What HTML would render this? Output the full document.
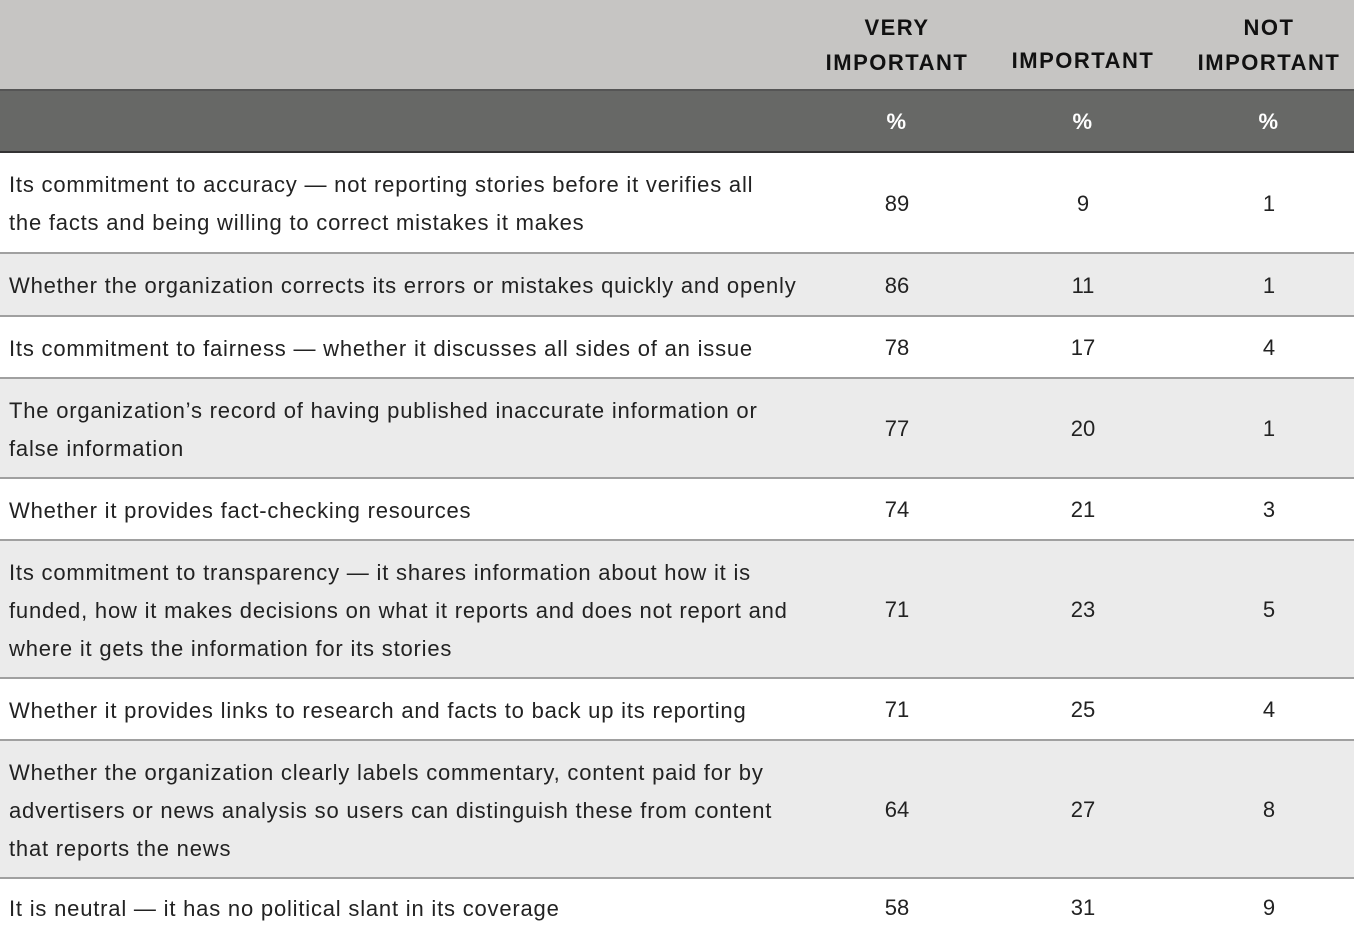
<!DOCTYPE html>
<html><head><meta charset="utf-8"><style>
body{margin:0;width:1354px;height:935px;overflow:hidden;background:#fff;font-family:"Liberation Sans",sans-serif;color:#222}
.r{position:absolute;left:0;width:1354px;box-sizing:border-box;border-bottom:2px solid #a0a0a0}
.t{position:absolute;left:9px;width:830px;top:3px;bottom:0;display:flex;align-items:center;font-size:22px;line-height:38px;letter-spacing:0.8px;white-space:nowrap}
.n{position:absolute;width:120px;top:2px;bottom:0;display:flex;align-items:center;justify-content:center;font-size:22px}
.c1{left:837px}.c2{left:1023px}.c3{left:1209px}
.h{font-weight:bold;font-size:22px;line-height:35px;text-align:center;color:#111;letter-spacing:1.5px;top:0}
</style></head><body>
<div class="r" style="top:0;height:91px;background:#c6c5c3;border-bottom:2px solid #555">
<div class="n c1 h" style="width:180px;left:807px">VERY<br>IMPORTANT</div>
<div class="n c2 h" style="width:180px;left:993px;align-items:flex-end;padding-bottom:11px;box-sizing:border-box">IMPORTANT</div>
<div class="n c3 h" style="width:180px;left:1179px">NOT<br>IMPORTANT</div>
</div>
<div class="r" style="top:91px;height:62px;background:#676866;border-bottom:2px solid #333">
<div class="n c1 h" style="color:#fff">%</div><div class="n c2 h" style="color:#fff">%</div><div class="n c3 h" style="color:#fff">%</div>
</div>
<div class="r" style="top:153px;height:101px;background:#fff"><div class="t">Its commitment to accuracy — not reporting stories before it verifies all<br>the facts and being willing to correct mistakes it makes</div><div class="n c1">89</div><div class="n c2">9</div><div class="n c3">1</div></div>
<div class="r" style="top:254px;height:63px;background:#ebebeb"><div class="t">Whether the organization corrects its errors or mistakes quickly and openly</div><div class="n c1">86</div><div class="n c2">11</div><div class="n c3">1</div></div>
<div class="r" style="top:317px;height:62px;background:#fff"><div class="t">Its commitment to fairness — whether it discusses all sides of an issue</div><div class="n c1">78</div><div class="n c2">17</div><div class="n c3">4</div></div>
<div class="r" style="top:379px;height:100px;background:#ebebeb"><div class="t">The organization’s record of having published inaccurate information or<br>false information</div><div class="n c1">77</div><div class="n c2">20</div><div class="n c3">1</div></div>
<div class="r" style="top:479px;height:62px;background:#fff"><div class="t">Whether it provides fact-checking resources</div><div class="n c1">74</div><div class="n c2">21</div><div class="n c3">3</div></div>
<div class="r" style="top:541px;height:138px;background:#ebebeb"><div class="t">Its commitment to transparency — it shares information about how it is<br>funded, how it makes decisions on what it reports and does not report and<br>where it gets the information for its stories</div><div class="n c1">71</div><div class="n c2">23</div><div class="n c3">5</div></div>
<div class="r" style="top:679px;height:62px;background:#fff"><div class="t">Whether it provides links to research and facts to back up its reporting</div><div class="n c1">71</div><div class="n c2">25</div><div class="n c3">4</div></div>
<div class="r" style="top:741px;height:138px;background:#ebebeb"><div class="t">Whether the organization clearly labels commentary, content paid for by<br>advertisers or news analysis so users can distinguish these from content<br>that reports the news</div><div class="n c1">64</div><div class="n c2">27</div><div class="n c3">8</div></div>
<div class="r" style="top:879px;height:64px;background:#fff;border:none"><div class="t" style="bottom:8px">It is neutral — it has no political slant in its coverage</div><div class="n c1" style="bottom:8px">58</div><div class="n c2" style="bottom:8px">31</div><div class="n c3" style="bottom:8px">9</div></div>
</body></html>
